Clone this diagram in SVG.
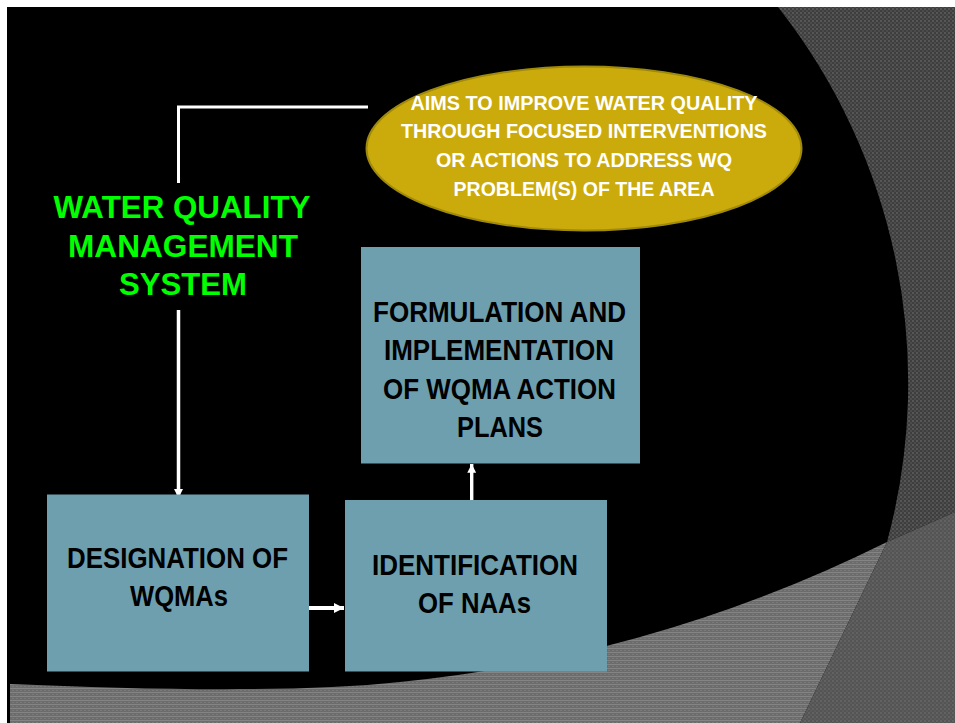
<svg xmlns="http://www.w3.org/2000/svg" width="955" height="723" viewBox="0 0 955 723">
  <style>
    .box { fill: #6e9fae; }
    .boxText { font-family: "Liberation Sans", Arial, sans-serif; font-weight: bold; font-size: 29px; fill: #000; text-anchor: middle; }
    .aimText { font-family: "Liberation Sans", Arial, sans-serif; font-weight: bold; font-size: 21px; fill: #fff; text-anchor: middle; }
    .titleText { font-family: "Liberation Sans", Arial, sans-serif; font-weight: bold; font-size: 31px; fill: #00ff00; text-anchor: middle; }
    .link { stroke: #fff; fill: none; }
  </style>
  <defs>
    <pattern id="texRight" width="4" height="4" patternUnits="userSpaceOnUse">
      <rect width="4" height="4" fill="#3e3e3e"/>
      <rect x="0" y="0" width="2" height="2" fill="#565656"/>
      <rect x="2" y="2" width="2" height="2" fill="#4c4c4c"/>
    </pattern>
    <pattern id="texBottom" width="4" height="4" patternUnits="userSpaceOnUse">
      <rect width="4" height="4" fill="#6c6c6c"/>
      <rect x="0" y="0" width="4" height="1" fill="#848484"/>
      <rect x="0" y="2" width="2" height="1" fill="#7a7a7a"/>
    </pattern>
    <pattern id="texCorner" width="4" height="4" patternUnits="userSpaceOnUse">
      <rect width="4" height="4" fill="#545454"/>
      <rect x="0" y="0" width="2" height="2" fill="#626262"/>
      <rect x="2" y="2" width="2" height="2" fill="#5c5c5c"/>
    </pattern>
    <marker id="head" viewBox="0 0 10 10" refX="10" refY="5" markerWidth="2.6" markerHeight="2.6" orient="auto" markerUnits="strokeWidth">
      <path d="M0,0 L10,5 L0,10 Z" fill="#fff"/>
    </marker>
  </defs>

  <!-- page and backdrop -->
  <rect width="955" height="723" fill="#fff"/>
  <rect x="7" y="7" width="948" height="716" fill="#000"/>
  <path d="M778 7 H955 V512 L887 542 A607.5 607.5 0 0 0 778 7 Z" fill="url(#texRight)"/>
  <path d="M10 684 C150 690 300 692.7 400 682 A1405 1405 0 0 0 887 542 L800 723 H10 Z" fill="url(#texBottom)"/>
  <path d="M887 542 L955 512 V723 H800 Z" fill="url(#texCorner)"/>

  <!-- connectors -->
  <g id="connectors">
    <polyline class="link" stroke-width="3" points="178.5,183 178.5,107 368,107"/>
    <line class="link" stroke-width="3.5" x1="178.5" y1="310" x2="178.5" y2="498" marker-end="url(#head)"/>
    <line class="link" stroke-width="4" x1="309" y1="608" x2="344" y2="608" marker-end="url(#head)"/>
    <line class="link" stroke-width="3.4" x1="471.7" y1="500" x2="471.7" y2="464" marker-end="url(#head)"/>
  </g>

  <g id="aims">
    <ellipse cx="584" cy="148.5" rx="217.5" ry="82" fill="#cbab0b" stroke="#a08a0c" stroke-width="2"/>
    <text class="aimText" x="584" y="110" textLength="347" lengthAdjust="spacingAndGlyphs">AIMS TO IMPROVE WATER QUALITY</text>
    <text class="aimText" x="584" y="138" textLength="366" lengthAdjust="spacingAndGlyphs">THROUGH FOCUSED INTERVENTIONS</text>
    <text class="aimText" x="584" y="167" textLength="296" lengthAdjust="spacingAndGlyphs">OR ACTIONS TO ADDRESS WQ</text>
    <text class="aimText" x="584" y="196" textLength="261" lengthAdjust="spacingAndGlyphs">PROBLEM(S) OF THE AREA</text>
  </g>

  <g id="title">
    <text class="titleText" x="182" y="218" textLength="257" lengthAdjust="spacingAndGlyphs">WATER QUALITY</text>
    <text class="titleText" x="183" y="257" textLength="230" lengthAdjust="spacingAndGlyphs">MANAGEMENT</text>
    <text class="titleText" x="183" y="295" textLength="128" lengthAdjust="spacingAndGlyphs">SYSTEM</text>
  </g>

  <g id="formulation">
    <rect class="box" x="361" y="247" width="279" height="216.5"/>
    <text class="boxText" x="499.5" y="322" textLength="253" lengthAdjust="spacingAndGlyphs">FORMULATION AND</text>
    <text class="boxText" x="499" y="360" textLength="230" lengthAdjust="spacingAndGlyphs">IMPLEMENTATION</text>
    <text class="boxText" x="499.5" y="398.5" textLength="233" lengthAdjust="spacingAndGlyphs">OF WQMA ACTION</text>
    <text class="boxText" x="500" y="437" textLength="86" lengthAdjust="spacingAndGlyphs">PLANS</text>
  </g>

  <g id="designation">
    <rect class="box" x="47" y="494.5" width="262" height="177"/>
    <text class="boxText" x="177.5" y="568" textLength="221" lengthAdjust="spacingAndGlyphs">DESIGNATION OF</text>
    <text class="boxText" x="179" y="606" textLength="98" lengthAdjust="spacingAndGlyphs">WQMAs</text>
  </g>

  <g id="identification">
    <rect class="box" x="345" y="500" width="262" height="171.5"/>
    <text class="boxText" x="475" y="575" textLength="206" lengthAdjust="spacingAndGlyphs">IDENTIFICATION</text>
    <text class="boxText" x="474.5" y="613" textLength="113" lengthAdjust="spacingAndGlyphs">OF NAAs</text>
  </g>
</svg>
